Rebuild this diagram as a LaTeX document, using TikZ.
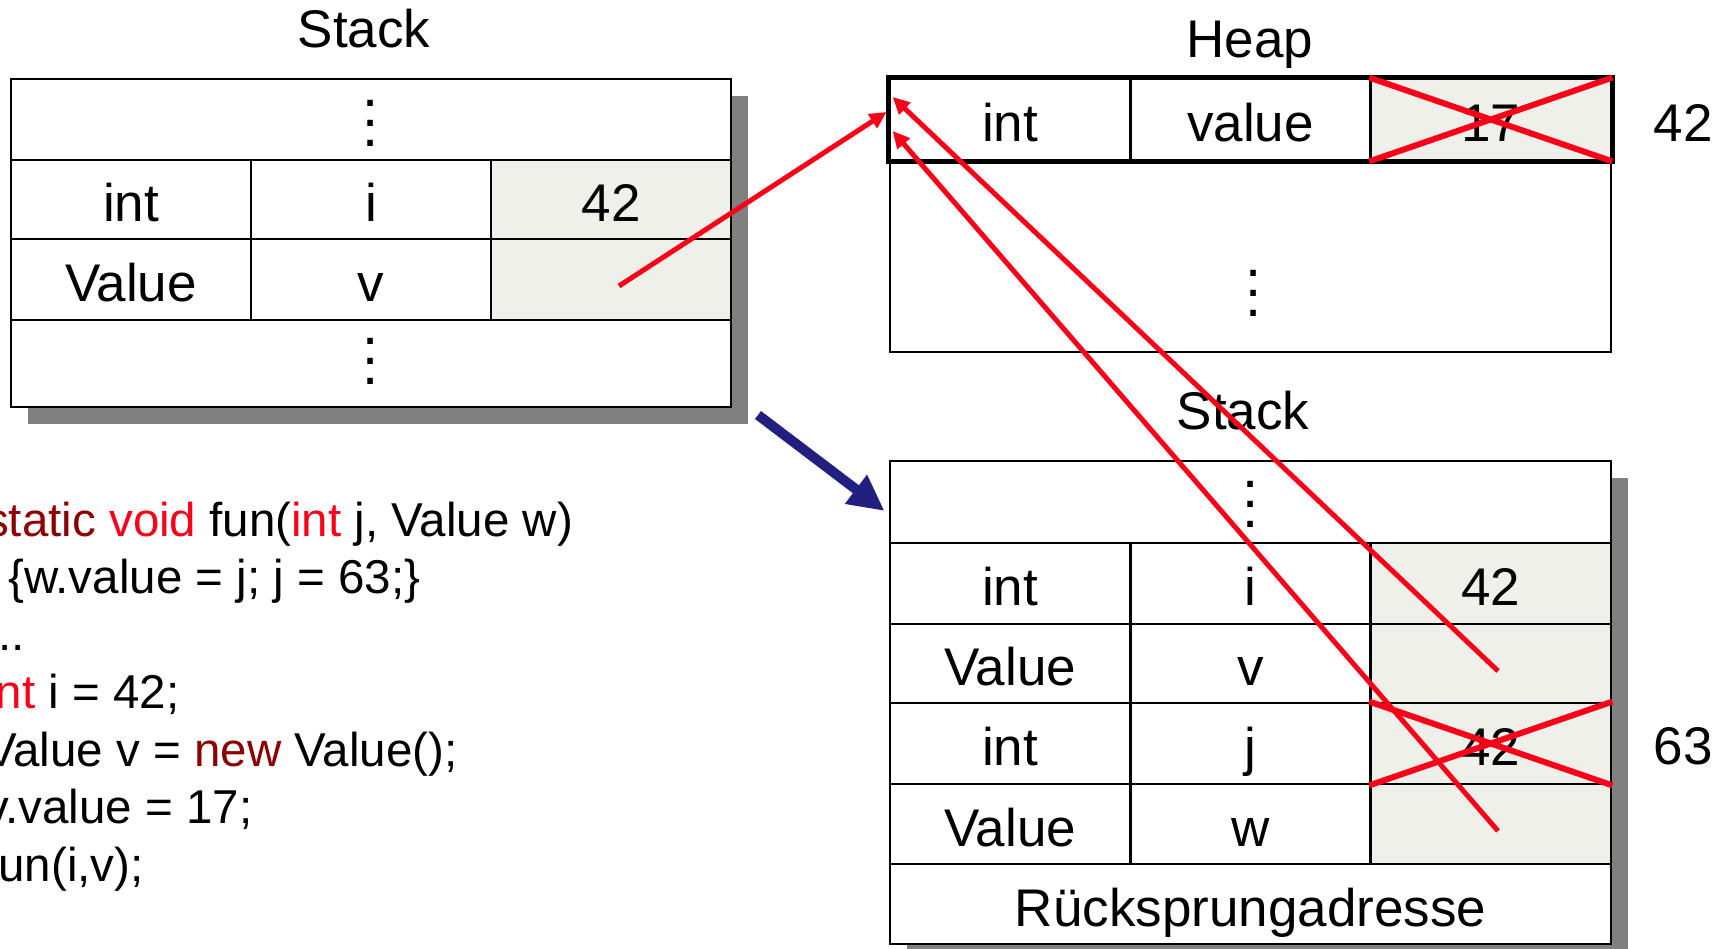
\documentclass[tikz,border=0pt]{standalone}
\usepackage{fontspec}
\setmainfont{Liberation Sans}
\usetikzlibrary{arrows.meta,calc}
\definecolor{cellgray}{RGB}{239,240,234}
\definecolor{shadowgray}{RGB}{128,128,128}
\definecolor{xred}{RGB}{250,0,25}
\definecolor{darkred}{RGB}{140,0,0}
\definecolor{navyblue}{RGB}{35,31,128}
\begin{document}
\begin{tikzpicture}[x=1pt,y=-1pt,
  cell/.style={draw=black, line width=2.8pt, fill=white, inner sep=0pt,
    minimum width=240.33pt, text height=44pt, text depth=0pt,
    font=\fontsize{53}{60}\selectfont},
  valcell/.style={cell, fill=cellgray},
  widecell/.style={cell, minimum width=721pt},
  vdotsnode/.style={align=center, inner sep=0pt, font=\fontsize{58}{20}\selectfont},
  title/.style={anchor=base, inner sep=0pt, font=\fontsize{53}{60}\selectfont},
  code/.style={anchor=base west, inner sep=0pt, font=\fontsize{47.5}{57}\selectfont},
  shadowbox/.style={fill=shadowgray},
  cross/.style={draw=xred, line width=6pt},
  ptr/.style={draw=xred, line width=5pt, -{Triangle[length=17pt,width=16pt]}},
  flow/.style={draw=navyblue, line width=10pt, -{Triangle[length=36pt,width=34pt]}}
]
\useasboundingbox (0,0) rectangle (1728,949);

% ---------- top-left stack ----------
\node[title] (t1) at (364,48) {Stack};
\fill[shadowbox] (28,96) rectangle (748,424);
\node[widecell, minimum width=720pt, minimum height=81pt] (s1top) at (371,119.5) {};
\node[cell, minimum width=240pt, minimum height=79pt] (s1it) at (131,199.5) {int};
\node[cell, minimum width=240pt, minimum height=79pt] (s1in) at (371,199.5) {i};
\node[valcell, minimum width=240pt, minimum height=79pt] (s1iv) at (611,199.5) {42};
\node[cell, minimum width=240pt, minimum height=81pt] (s1vt) at (131,279.5) {Value};
\node[cell, minimum width=240pt, minimum height=81pt] (s1vn) at (371,279.5) {v};
\node[valcell, minimum width=240pt, minimum height=81pt] (s1vv) at (611,279.5) {};
\node[widecell, minimum width=720pt, minimum height=87pt] (s1bot) at (371,363.5) {};
\node[vdotsnode] (d1) at (371,123) {.\\.\\.};
\node[vdotsnode] (d2) at (371,361) {.\\.\\.};

% ---------- heap ----------
\node[title] (t2) at (1250,58) {Heap};
\node[widecell, minimum height=192pt] (hrest) at (1250.5,256) {};
\node[cell, minimum height=81pt] (hint) at (1010.2,119.5) {int};
\node[cell, minimum height=81pt] (hval) at (1250.5,119.5) {value};
\node[valcell, minimum height=81pt] (hnum) at (1490.8,119.5) {17};
\draw[line width=5.5pt] (hint.north west) rectangle (hnum.south east);
\node[vdotsnode] (d3) at (1254,293) {.\\.\\.};
\draw[cross] (hnum.north west) -- (hnum.south east)
             (hnum.south west) -- (hnum.north east);
\node[title] (hnew) at (1683,142) {42};

% ---------- bottom stack ----------
\node[title] (t3) at (1243,429) {Stack};
\fill[shadowbox] (907,478) rectangle (1628,961);
\node[widecell, minimum height=82pt] (s2top) at (1250.5,502) {};
\node[cell, minimum height=81pt] (s2it) at (1010.2,583.5) {int};
\node[cell, minimum height=81pt] (s2in) at (1250.5,583.5) {i};
\node[valcell, minimum height=81pt] (s2iv) at (1490.8,583.5) {42};
\node[cell, minimum height=79pt] (s2vt) at (1010.2,663.5) {Value};
\node[cell, minimum height=79pt] (s2vn) at (1250.5,663.5) {v};
\node[valcell, minimum height=79pt] (s2vv) at (1490.8,663.5) {};
\node[cell, minimum height=81pt] (s2jt) at (1010.2,743.5) {int};
\node[cell, minimum height=81pt] (s2jn) at (1250.5,743.5) {j};
\node[valcell, minimum height=81pt] (s2jv) at (1490.8,743.5) {42};
\node[cell, minimum height=80pt] (s2wt) at (1010.2,824) {Value};
\node[cell, minimum height=80pt] (s2wn) at (1250.5,824) {w};
\node[valcell, minimum height=80pt] (s2wv) at (1490.8,824) {};
\node[widecell, minimum height=80pt] (s2ret) at (1250.5,904) {Rücksprungadresse};
\node[vdotsnode] (d4) at (1251,504) {.\\.\\.};
\draw[cross] (s2jv.north west) -- (s2jv.south east)
             (s2jv.south west) -- (s2jv.north east);
\node[title] (jnew) at (1683,764) {63};

% ---------- code ----------
\node[code] (c1) at (-15,536) {\textcolor{darkred}{static} \textcolor{xred}{void} fun(\textcolor{xred}{int} j, Value w)};
\node[code] (c2) at (8,593) {\{w.value = j; j = 63;\}};
\node[code] (c3) at (-15,650) {...};
\node[code] (c4) at (-15,708) {\textcolor{xred}{int} i = 42;};
\node[code] (c5) at (-15,766) {Value v = \textcolor{darkred}{new} Value();};
\node[code] (c6) at (-15,823) {v.value = 17;};
\node[code] (c7) at (-15,881) {fun(i,v);};

% ---------- connectors ----------
\coordinate (bstart) at (758,415);
\draw[flow] (bstart) -- ($(s2top.west)+(-4,9)$);
\coordinate (p1) at (619,286);
\coordinate (p2) at (1498,671);
\coordinate (p3) at (1498,831);
\draw[ptr] (p1) -- ($(hint.west)+(-2,-7.5)$);
\draw[ptr] (p2) -- ($(hint.west)+(4,-22.5)$);
\draw[ptr] (p3) -- ($(hint.west)+(4,11.5)$);
\end{tikzpicture}
\end{document}
